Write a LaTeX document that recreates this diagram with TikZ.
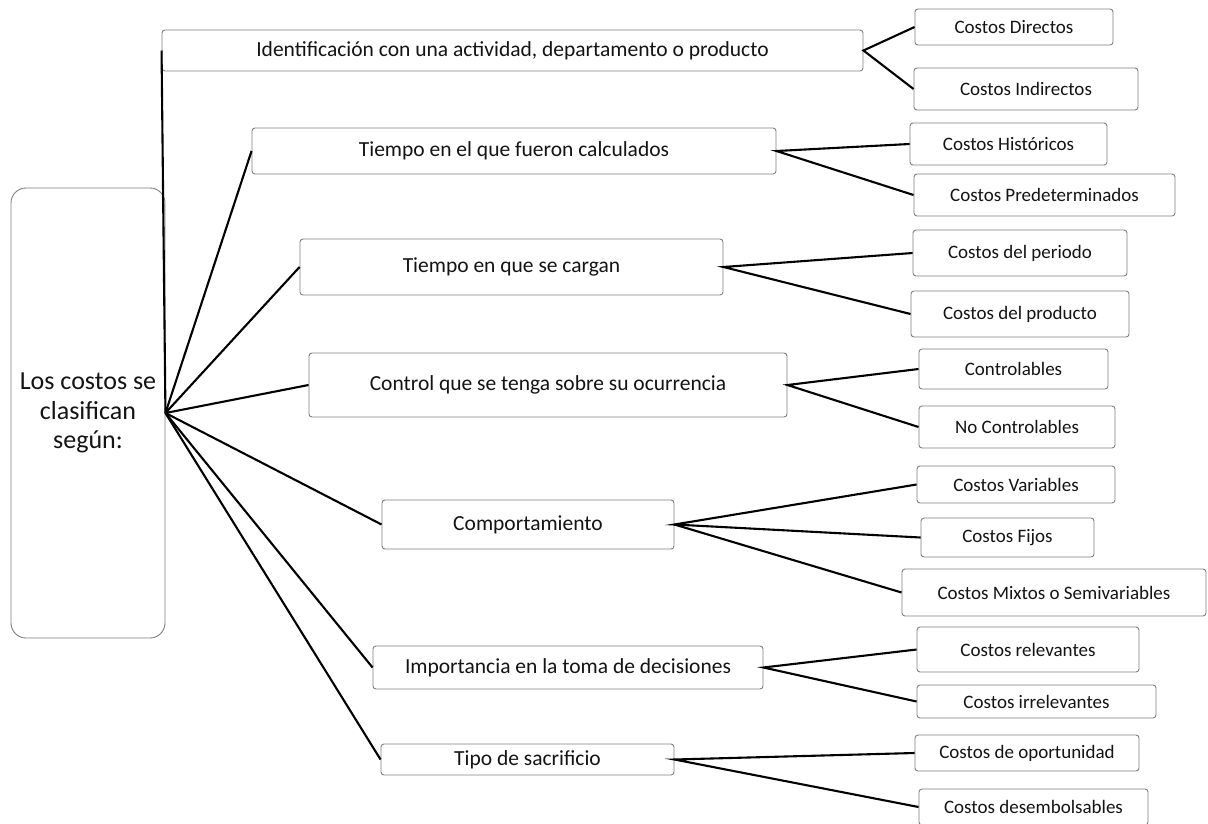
\documentclass[tikz,border=0pt]{standalone}
\usepackage{fontspec}
\setmainfont{Carlito}
\definecolor{boxgray}{HTML}{7F7F7F}
\begin{document}
\begin{tikzpicture}[x=1pt,y=-1pt,
  box/.style={draw=boxgray, line width=0.9pt, rounded corners=3pt, inner sep=0pt,
              align=center, text=black!92, fill=white},
  rootbox/.style={box, rounded corners=15pt, font=\fontsize{26}{29.5}\selectfont},
  mid/.style={box, font=\fontsize{21.5}{25}\selectfont},
  leaf/.style={box, font=\fontsize{19}{23}\selectfont},
  link/.style={line width=2.1pt, black}]
\path[use as bounding box] (0,0) rectangle (1208,823);
\clip (0,0) rectangle (1208,823);

% root
\node[rootbox, minimum width=154pt, minimum height=450pt] (root) at (88,413)
  {Los costos se\\clasifican\\según:};

% criteria
\node[mid, minimum width=701pt, minimum height=41pt] (m1) at (512.5,50.5)
  {Identificación con una actividad, departamento o producto};
\node[mid, minimum width=524pt, minimum height=46pt] (m2) at (514,151)
  {Tiempo en el que fueron calculados};
\node[mid, minimum width=423pt, minimum height=56pt] (m3) at (511.5,267)
  {Tiempo en que se cargan};
\node[mid, minimum width=478pt, minimum height=64pt] (m4) at (548,385)
  {Control que se tenga sobre su ocurrencia};
\node[mid, minimum width=292pt, minimum height=49pt] (m5) at (528,524.5)
  {Comportamiento};
\node[mid, minimum width=390pt, minimum height=43pt] (m6) at (568,667.5)
  {Importancia en la toma de decisiones};
\node[mid, minimum width=293pt, minimum height=31pt] (m7) at (527.5,759.5)
  {Tipo de sacrificio};

% classes
\node[leaf, minimum width=198pt, minimum height=36pt] (a1) at (1014,27) {Costos Directos};
\node[leaf, minimum width=224pt, minimum height=42pt] (a2) at (1026,89) {Costos Indirectos};
\node[leaf, minimum width=197pt, minimum height=42pt] (b1) at (1008.5,144) {Costos Históricos};
\node[leaf, minimum width=261pt, minimum height=42pt] (b2) at (1044.5,195) {Costos Predeterminados};
\node[leaf, minimum width=214pt, minimum height=46pt] (c1) at (1020,253) {Costos del periodo};
\node[leaf, minimum width=218pt, minimum height=46pt] (c2) at (1020,314) {Costos del producto};
\node[leaf, minimum width=189pt, minimum height=40pt] (d1) at (1013.5,369) {Controlables};
\node[leaf, minimum width=196pt, minimum height=42pt] (d2) at (1017,427) {No Controlables};
\node[leaf, minimum width=198pt, minimum height=37pt] (e1) at (1016,484.5) {Costos Variables};
\node[leaf, minimum width=173pt, minimum height=39pt] (e2) at (1007.5,537.5) {Costos Fijos};
\node[leaf, minimum width=304pt, minimum height=47pt] (e3) at (1054,592.5) {Costos Mixtos o Semivariables};
\node[leaf, minimum width=222pt, minimum height=45pt] (f1) at (1028,649.5) {Costos relevantes};
\node[leaf, minimum width=239pt, minimum height=33pt] (f2) at (1036.5,701.5) {Costos irrelevantes};
\node[leaf, minimum width=224pt, minimum height=36pt] (g1) at (1027,753) {Costos de oportunidad};
\node[leaf, minimum width=229pt, minimum height=36pt] (g2) at (1033.5,807) {Costos desembolsables};

% root to criteria
\foreach \m in {m1,m2,m3,m4,m5,m6,m7}
  \draw[link] (root.east) -- (\m.west);

% criteria to classes
\draw[link] (a1.west) -- (m1.east) -- (a2.west);
\draw[link] (b1.west) -- (m2.east) -- (b2.west);
\draw[link] (c1.west) -- (m3.east) -- (c2.west);
\draw[link] (d1.west) -- (m4.east) -- (d2.west);
\draw[link] (e1.west) -- (m5.east) -- (e2.west);
\draw[link] (m5.east) -- (e3.west);
\draw[link] (f1.west) -- (m6.east) -- (f2.west);
\draw[link] (g1.west) -- (m7.east) -- (g2.west);
\end{tikzpicture}
\end{document}
